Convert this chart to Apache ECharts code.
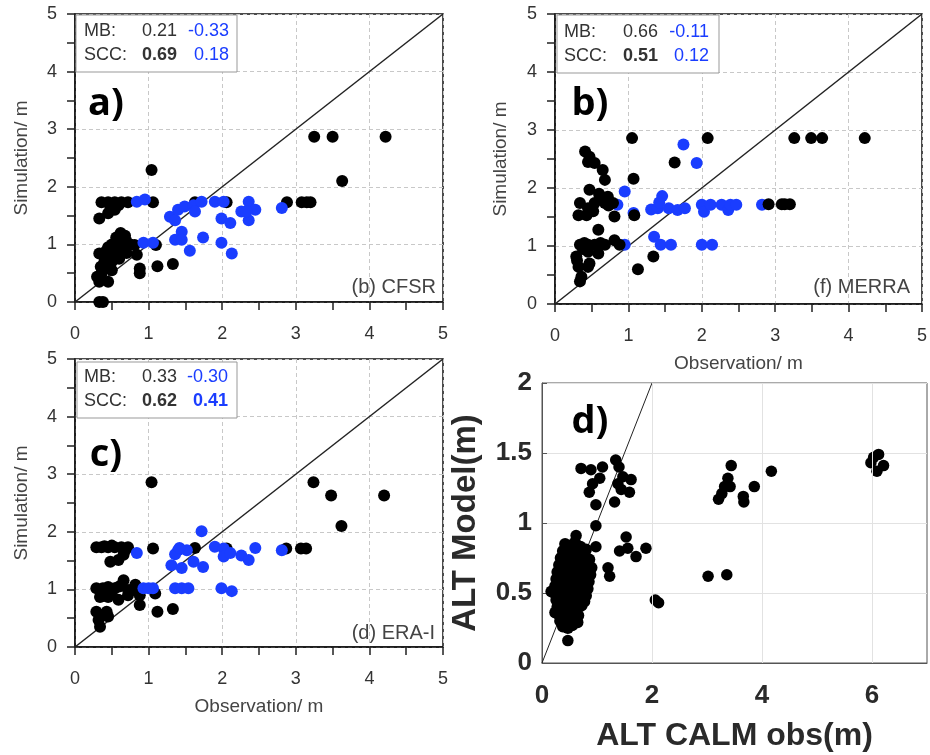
<!DOCTYPE html>
<html><head><meta charset="utf-8">
<script src="https://cdn.jsdelivr.net/npm/echarts@6/dist/echarts.min.js"></script>
<style>html,body{margin:0;padding:0;background:#fff}#c{width:930px;height:755px}</style>
</head><body><div id="c"></div>
<script>
// ---------- data (observation, simulation) ----------
const cfsrBlack = [[4.22,2.87],[3.25,2.87],[3.5,2.87],[3.63,2.1],[2.88,1.73],[3.08,1.73],[3.15,1.73],[3.2,1.73],
 [1.04,2.29],[0.36,1.73],[0.45,1.73],[0.54,1.73],[0.63,1.73],[0.72,1.73],[1.06,1.73],[1.63,1.73],[2.06,1.73],
 [0.33,1.45],[0.45,1.54],[0.54,1.6],[0.59,1.68],[0.48,1.65],
 [0.62,1.2],[0.56,1.12],[0.68,1.15],[0.5,1.0],[0.45,0.95],[0.33,0.84],[0.4,0.78],[0.7,1.05],[0.81,0.99],[0.84,0.82],
 [0.88,0.58],[0.88,0.5],[0.35,0.61],[0.3,0.44],[0.45,0.35],[0.33,0.35],[0.33,0.0],[0.38,0.0],[1.12,0.62],[1.33,0.66],
 [1.1,0.99],[0.5,0.7],[0.55,0.8],[0.6,0.75],[0.65,0.9],[0.45,0.6],[0.4,0.7],[0.5,0.55],[0.7,0.85],[0.75,1.0],
 [0.58,0.95],[0.42,0.88],[0.62,1.0],[0.36,0.5],[0.52,0.85]];
const cfsrBlue = [[0.84,1.74],[0.95,1.78],[0.93,1.03],[1.06,1.03],[1.29,1.48],[1.36,1.42],[1.4,1.6],[1.49,1.66],
 [1.61,1.68],[1.63,1.57],[1.72,1.74],[1.9,1.74],[2.02,1.74],[1.99,1.45],[2.11,1.37],[2.26,1.57],[2.36,1.74],
 [2.36,1.42],[2.45,1.6],[2.33,1.57],[2.81,1.63],[1.45,1.22],[1.36,1.08],[1.45,1.08],[1.56,0.89],[1.74,1.12],
 [1.99,1.03],[2.13,0.84]];
const merraBlack = [[1.05,2.86],[2.08,2.86],[3.26,2.86],[3.49,2.86],[3.64,2.86],[4.22,2.86],[1.63,2.44],[1.07,2.16],
 [2.91,1.72],[3.09,1.72],[3.13,1.72],[3.2,1.72],[1.13,0.6],[1.34,0.82],
 [0.41,2.63],[0.47,2.54],[0.45,2.45],[0.54,2.43],[0.65,2.31],[0.68,2.14],[0.47,1.97],[0.34,1.74],[0.61,1.85],
 [0.72,1.85],[0.54,1.74],[0.68,1.74],[0.45,1.65],[0.32,1.53],[0.43,1.53],[0.81,1.51],[0.59,1.28],[0.34,1.02],
 [0.45,1.02],[0.54,1.02],[0.68,1.02],[0.81,1.1],[0.29,0.82],[0.45,0.9],[0.59,0.87],[0.32,0.64],[0.45,0.64],
 [0.47,0.7],[0.34,0.39],[0.36,0.47],[0.88,1.02],[1.08,1.53],[0.79,1.74],[0.38,0.95],[0.52,1.6],[0.6,1.9],
 [0.4,1.05],[0.3,0.75],[0.62,1.05],[0.73,1.7]];
const merraBlue = [[1.75,2.75],[1.93,2.43],[0.95,1.94],[0.85,1.71],[1.07,1.57],[1.46,1.86],[1.31,1.63],[1.4,1.65],
 [1.55,1.65],[1.67,1.62],[1.77,1.65],[2.0,1.71],[2.03,1.59],[2.12,1.71],[2.27,1.71],[2.36,1.62],[2.39,1.71],
 [2.47,1.71],[2.82,1.71],[0.95,1.02],[1.35,1.16],[1.44,1.02],[1.58,1.02],[2.0,1.02],[2.14,1.02],[1.42,1.75]];
const eraBlack = [[1.04,2.86],[3.24,2.86],[3.48,2.63],[4.2,2.63],[3.62,2.1],[2.87,1.71],[3.07,1.71],[3.14,1.71],
 [0.29,1.73],[0.36,1.73],[0.45,1.73],[0.54,1.73],[0.63,1.73],[0.72,1.73],[0.4,1.75],[0.5,1.76],[1.06,1.71],
 [1.63,1.72],[2.06,1.71],[0.48,1.48],[0.66,1.6],[0.59,1.51],[0.68,1.68],
 [0.29,1.02],[0.38,1.02],[0.45,1.04],[0.54,1.02],[0.66,1.16],[0.5,0.96],[0.34,0.87],[0.45,0.87],[0.59,0.82],
 [0.72,0.99],[0.82,1.08],[0.88,0.9],[0.88,0.73],[1.09,0.93],[1.12,0.61],[1.33,0.66],[0.29,0.61],[0.43,0.61],
 [0.34,0.35],[0.32,0.47],[0.45,0.53],[0.72,0.9],[0.6,1.05],[0.78,1.0],[0.4,0.95],[0.36,0.55]];
const eraBlue = [[1.72,2.01],[0.84,1.63],[0.93,1.02],[1.06,1.02],[1.4,1.68],[1.52,1.68],[1.36,1.61],[1.31,1.42],
 [1.45,1.37],[1.61,1.48],[1.74,1.39],[1.9,1.74],[2.02,1.71],[2.02,1.57],[2.11,1.63],[2.26,1.59],[2.36,1.51],
 [2.45,1.72],[2.81,1.68],[1.36,1.02],[1.45,1.02],[1.54,1.02],[1.99,1.02],[2.13,0.97],[1.42,1.72],[1.0,1.02]];
const altOutliers = [[0.71,1.39],[0.89,1.38],[1.1,1.4],[1.34,1.45],[1.4,1.4],[1.05,1.32],[0.92,1.28],[0.86,1.22],
 [0.98,1.13],[1.32,1.15],[1.38,1.28],[1.47,1.33],[1.62,1.31],[1.59,1.22],[1.44,1.24],[0.98,0.98],[0.62,0.91],
 [1.53,0.9],[1.41,0.8],[1.56,0.82],[1.71,0.76],[1.89,0.82],[0.98,0.83],[1.2,0.68],[1.23,0.62],[2.06,0.45],
 [2.12,0.43],[3.02,0.62],[3.36,0.63],[0.47,0.16],[0.65,0.29],
 [6.03,1.47],[6.12,1.49],[5.98,1.43],[6.21,1.41],[6.09,1.37],[4.17,1.37],[3.86,1.26],[3.66,1.19],[3.67,1.15],
 [3.44,1.41],[3.38,1.32],[3.32,1.26],[3.42,1.26],[3.27,1.21],[3.21,1.17]];
const altCluster = [[0.42,0.85],[0.52,0.84],[0.6,0.86],[0.7,0.83],
 [0.38,0.8],[0.47,0.79],[0.56,0.81],[0.65,0.8],[0.74,0.79],[0.8,0.81],
 [0.34,0.75],[0.43,0.74],[0.52,0.76],[0.61,0.75],[0.7,0.74],[0.79,0.76],[0.86,0.74],
 [0.31,0.7],[0.4,0.69],[0.49,0.71],[0.58,0.7],[0.67,0.69],[0.76,0.71],[0.85,0.7],[0.9,0.68],
 [0.28,0.65],[0.37,0.64],[0.46,0.66],[0.55,0.65],[0.64,0.64],[0.73,0.66],[0.82,0.65],[0.88,0.63],
 [0.26,0.6],[0.35,0.59],[0.44,0.61],[0.53,0.6],[0.62,0.59],[0.71,0.61],[0.8,0.6],[0.85,0.58],
 [0.24,0.55],[0.33,0.54],[0.42,0.56],[0.51,0.55],[0.6,0.54],[0.69,0.56],[0.78,0.55],[0.83,0.53],
 [0.17,0.51],[0.23,0.5],[0.32,0.49],[0.41,0.51],[0.5,0.5],[0.59,0.49],[0.68,0.51],[0.76,0.5],[0.8,0.48],
 [0.26,0.45],[0.35,0.44],[0.44,0.46],[0.53,0.45],[0.62,0.44],[0.71,0.46],[0.77,0.44],
 [0.28,0.4],[0.37,0.39],[0.46,0.41],[0.55,0.4],[0.64,0.39],[0.72,0.41],
 [0.24,0.36],[0.3,0.35],[0.39,0.34],[0.48,0.36],[0.57,0.35],[0.66,0.34],
 [0.33,0.3],[0.42,0.29],[0.51,0.31],[0.6,0.3],[0.38,0.26],[0.47,0.25],[0.55,0.27]];
const oneToOneABC = [[0,0],[5,5]];
const oneToOneD = [[0,0],[2,2]];
const dGridX = [2, 4, 6];
const statsA = {mb:['0.21','-0.33'], scc:['0.69','0.18']};
const statsB = {mb:['0.66','-0.11'], scc:['0.51','0.12']};
const statsC = {mb:['0.33','-0.30'], scc:['0.62','0.41']};

// ---------- styling ----------
const BLUE = '#1a3dff';
const FF = 'Liberation Sans, Arial, sans-serif';
function axisABC(g, isY, name, gap) {
  return {
    type:'value', gridIndex:g, min:0, max:5, interval:1,
    name:name||'', nameLocation:'middle', nameGap:gap||0,
    nameTextStyle:{fontSize:19, color:'#444', fontFamily:FF},
    axisLine:{show:true, onZero:false, lineStyle:{color:'#111', width:1.5}},
    axisTick:{show:true, length:8, lineStyle:{color:'#222', width:1.5}},
    minorTick:{show:true, splitNumber:2, length:8, lineStyle:{color:'#222', width:1.5}},
    splitLine:{show:true, lineStyle:{color:'#c8c8c8', type:[4,3], width:1}},
    axisLabel:{fontSize:18, color:'#333', fontFamily:FF, margin: isY?18:23}
  };
}
const grids = [
  {left:75, top:14, width:368, height:288},
  {left:555, top:14, width:370, height:290},
  {left:75, top:359, width:368, height:288},
  {left:542, top:383, width:388, height:280}
].map((g,i)=>Object.assign(g,{show:true, borderColor: i<3?'#111':'#555', borderWidth: i<3?1.5:1, backgroundColor:'transparent'}));

const dStyle = {fontSize:26, fontWeight:'bold', color:'#2a2a2a', fontFamily:FF};
const xAxes = [
  axisABC(0,false),
  axisABC(1,false,'Observation/ m',50),
  axisABC(2,false,'Observation/ m',50),
  {type:'value', gridIndex:3, min:0, max:7, interval:1, name:'ALT CALM obs(m)', nameLocation:'middle', nameGap:57,
   nameTextStyle:{fontSize:32, fontWeight:'bold', color:'#2a2a2a', fontFamily:FF},
   axisLine:{show:true, onZero:false, lineStyle:{color:'#555', width:1}},
   axisTick:{show:false},
   splitLine:{show:false},
   axisLabel:Object.assign({margin:20, interval:0, formatter: v => (v % 2 === 0 ? String(v) : '')}, dStyle)}
];
const yAxes = [
  axisABC(0,true,'Simulation/ m',44),
  axisABC(1,true,'Simulation/ m',45),
  axisABC(2,true,'Simulation/ m',44),
  {type:'value', gridIndex:3, min:0, max:2, interval:0.5, name:'ALT Model(m)', nameLocation:'middle', nameGap:60,
   nameTextStyle:{fontSize:33, fontWeight:'bold', color:'#2a2a2a', fontFamily:FF},
   axisLine:{show:true, onZero:false, lineStyle:{color:'#555', width:1}},
   axisTick:{show:true, inside:true, length:5, lineStyle:{color:'#555'}},
   splitLine:{show:true, lineStyle:{color:'#e2e2e2', width:1}},
   axisLabel:Object.assign({margin:10}, dStyle)}
];

function sc(i, data, color, size) {
  return {type:'scatter', xAxisIndex:i, yAxisIndex:i, data:data, symbolSize:size, silent:true,
          itemStyle:{color:color, opacity:1}, z:3};
}
function diag(i, data, w) {
  return {type:'line', xAxisIndex:i, yAxisIndex:i, data:data, symbol:'none', silent:true,
          lineStyle:{color:'#222', width:w}, z:2};
}
const dDiag = diag(3, oneToOneD, 1);
dDiag.markLine = {silent:true, symbol:'none', animation:false, label:{show:false},
  lineStyle:{color:'#e2e2e2', width:1, type:'solid'}, data: dGridX.map(v => ({xAxis:v}))};
const series = [
  diag(0, oneToOneABC, 1.5), sc(0, cfsrBlack, '#000', 12), sc(0, cfsrBlue, BLUE, 12),
  diag(1, oneToOneABC, 1.5), sc(1, merraBlue, BLUE, 12), sc(1, merraBlack, '#000', 12),
  diag(2, oneToOneABC, 1.5), sc(2, eraBlack, '#000', 12), sc(2, eraBlue, BLUE, 12),
  dDiag, sc(3, altCluster, '#000', 12), sc(3, altOutliers, '#000', 11.5)
];

function txt(x, y, text, opt) {
  opt = opt || {};
  return {type:'text', x:x, y:y, z:100, silent:true, style:{text:text, fill:opt.fill||'#333',
    font:(opt.bold?'bold ':'') + (opt.size||18) + 'px ' + (opt.family||FF),
    align:opt.align||'left', verticalAlign:'middle'}};
}
function statBox(bx, by, bw, bh, st, pos, boldBlue) {
  return [
    {type:'rect', z:99, silent:true, shape:{x:bx, y:by, width:bw, height:bh}, style:{fill:'#fff', stroke:'#999', lineWidth:1}},
    txt(pos.l, pos.y1, 'MB:'),
    txt(pos.c1, pos.y1, st.mb[0], {align:'right'}),
    txt(pos.c2, pos.y1, st.mb[1], {align:'right', fill:BLUE}),
    txt(pos.l, pos.y2, 'SCC:'),
    txt(pos.c1, pos.y2, st.scc[0], {align:'right', bold:true}),
    txt(pos.c2, pos.y2, st.scc[1], {align:'right', fill:BLUE, bold:boldBlue})
  ];
}
const graphics = [].concat(
  statBox(76, 15, 161, 57, statsA, {l:84, c1:177, c2:229, y1:31, y2:55}, false),
  statBox(557, 15, 162, 58, statsB, {l:564, c1:658, c2:709, y1:32, y2:56}, false),
  statBox(77, 362, 160, 56, statsC, {l:84, c1:177, c2:228, y1:377, y2:401}, true),
  [
    txt(436, 287, '(b) CFSR', {align:'right', size:20, fill:'#444'}),
    txt(910, 287, '(f) MERRA', {align:'right', size:20, fill:'#444'}),
    txt(435, 633, '(d) ERA-I', {align:'right', size:20, fill:'#444'}),
    txt(106, 104, 'a)', {align:'center', size:38, bold:true, fill:'#000', family:'Open Sans, sans-serif'}),
    txt(590, 104, 'b)', {align:'center', size:38, bold:true, fill:'#000', family:'Open Sans, sans-serif'}),
    txt(106, 455, 'c)', {align:'center', size:38, bold:true, fill:'#000', family:'Open Sans, sans-serif'}),
    txt(590, 422, 'd)', {align:'center', size:38, bold:true, fill:'#000', family:'Open Sans, sans-serif'})
  ]
);

const chart = echarts.init(document.getElementById('c'), null, {renderer:'canvas'});
chart.setOption({
  animation:false, backgroundColor:'#fff',
  grid:grids, xAxis:xAxes, yAxis:yAxes, series:series, graphic:graphics
});
</script></body></html>
